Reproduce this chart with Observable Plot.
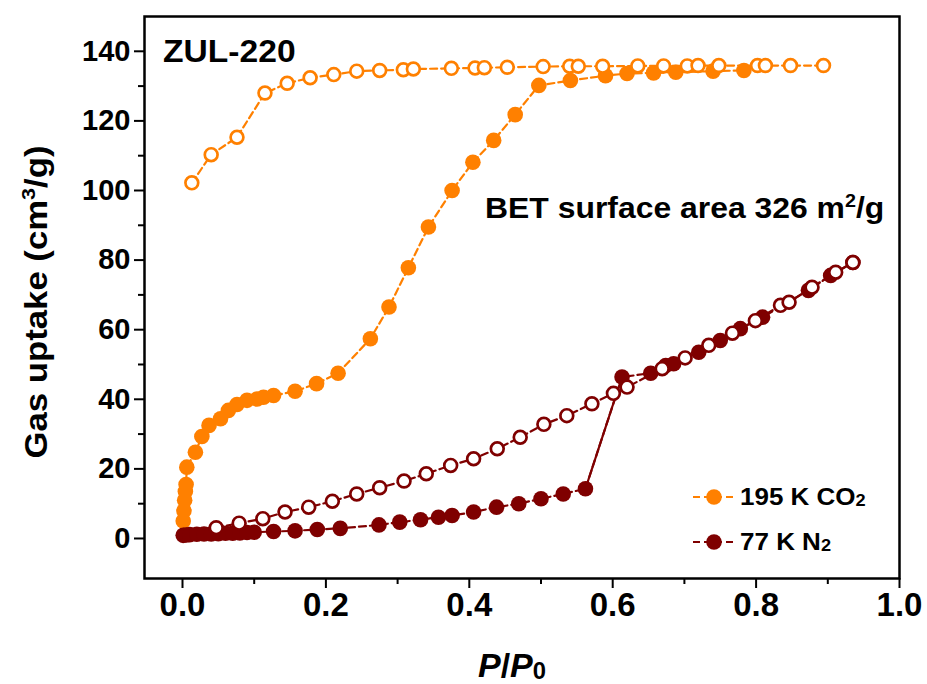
<!DOCTYPE html>
<html>
<head>
<meta charset="utf-8">
<script src="https://cdn.jsdelivr.net/npm/d3@7"></script>
<script src="https://cdn.jsdelivr.net/npm/@observablehq/plot@0.6"></script>
<style>
  html, body { margin: 0; padding: 0; background: #fff; }
  #wrap { position: relative; width: 927px; height: 684px; font-family: "Liberation Sans", Arial, sans-serif; font-weight: bold; color: #000; }
  .ann { position: absolute; white-space: nowrap; line-height: 1; transform-origin: 0 0; }
  sub { font-size: 0.7em; vertical-align: baseline; position: relative; top: 0.08em; }
  sup { font-size: 0.62em; vertical-align: baseline; position: relative; top: -0.62em; }
</style>
</head>
<body>
<div id="wrap"></div>
<script>
// ---- data ----
const co2AdsP = [0.001,0.002,0.003,0.004,0.005,0.006,0.018,0.027,0.037,0.053,0.064,0.076,0.090,0.104,0.113,0.127,0.157,0.187,0.217,0.262,0.288,0.315,0.343,0.376,0.405,0.434,0.464,0.497,0.541,0.590,0.620,0.657,0.688,0.740,0.783];
const co2AdsV = [5,8,11,13.5,15.5,20.5,24.8,29.3,32.5,34.4,36.8,38.5,39.7,40.1,40.6,41.1,42.3,44.5,47.5,57.4,66.5,77.8,89.5,100,108.1,114.4,121.8,130.2,131.6,133,133.6,133.8,134,134.3,134.5];
const co2DesP = [0.013,0.040,0.076,0.115,0.146,0.178,0.211,0.243,0.275,0.308,0.322,0.375,0.408,0.421,0.453,0.503,0.540,0.552,0.586,0.635,0.671,0.704,0.719,0.748,0.802,0.813,0.848,0.894];
const co2DesV = [102.2,110.3,115.3,128.0,130.8,132.4,133.3,134.3,134.5,134.7,134.9,135.1,135.2,135.3,135.4,135.6,135.7,135.7,135.7,135.8,135.8,135.8,135.9,135.9,135.9,135.9,135.9,135.9];
const n2AdsP = [0.001,0.005,0.01,0.02,0.03,0.04,0.05,0.06,0.07,0.08,0.09,0.10,0.127,0.157,0.188,0.220,0.274,0.303,0.332,0.357,0.376,0.406,0.438,0.469,0.500,0.531,0.562,0.613,0.653,0.674,0.685,0.720,0.750,0.778,0.809,0.873,0.904,0.935];
const n2AdsV = [0.9,1.0,1.1,1.2,1.3,1.3,1.4,1.5,1.5,1.6,1.7,1.8,2.0,2.2,2.6,2.9,3.9,4.7,5.4,6.1,6.6,7.6,9.0,10.0,11.4,12.8,14.3,46.4,47.5,49.7,50.2,53.5,56.9,60.3,63.6,71.3,75.6,79.3];
const n2DesP = [0.047,0.079,0.112,0.143,0.176,0.209,0.243,0.275,0.309,0.340,0.374,0.406,0.439,0.471,0.504,0.536,0.571,0.601,0.620,0.669,0.701,0.734,0.767,0.799,0.834,0.846,0.878,0.911,0.935];
const n2DesV = [3.1,4.4,5.7,7.6,9.0,10.7,12.8,14.6,16.5,18.6,21.0,22.9,25.8,29.1,32.8,35.3,38.7,41.7,43.5,48.8,51.9,55.5,59.0,62.6,67.0,67.9,72.2,76.5,79.3];
const n2JumpIndex = 26; // last point before the step in the N2 adsorption branch

const seriesNames = ["195 K CO", "77 K N"];
const seriesColors = ["#FF8000", "#7F0000"];
const xTicks = [0, 0.2, 0.4, 0.6, 0.8, 1.0];
const xMinorTicks = [0.1, 0.3, 0.5, 0.7, 0.9];
const yTicks = [0, 20, 40, 60, 80, 100, 120, 140];
const yMinorTicks = [10, 30, 50, 70, 90, 110, 130];
const sampleName = "ZUL-220";
const betValue = 326;

// ---- build tables ----
const zip = (P, V) => P.map((p, i) => ({p, v: V[i]}));
const co2Ads = zip(co2AdsP, co2AdsV);
const co2Des = zip(co2DesP, co2DesV);
const n2Ads = zip(n2AdsP, n2AdsV);
const n2Des = zip(n2DesP, n2DesV);
const jump = [{p1: n2AdsP[n2JumpIndex], v1: n2AdsV[n2JumpIndex], p2: n2AdsP[n2JumpIndex + 1], v2: n2AdsV[n2JumpIndex + 1]}];
const [orange, wine] = seriesColors;

const dash = "7,4";
const narrow = "'Liberation Sans Narrow', 'Arial Narrow', 'Liberation Sans', sans-serif";
const chart = Plot.plot({
  width: 927,
  height: 684,
  marginLeft: 144,
  marginRight: 28,
  marginTop: 16,
  marginBottom: 106,
  style: {fontFamily: "'Liberation Sans', Arial, sans-serif", fontSize: "28px", fontWeight: "bold", color: "#000", background: "#fff"},
  x: {domain: [-0.053, 1.0]},
  y: {domain: [-11.5, 150]},
  marks: [
    Plot.axisX({ticks: xTicks, tickSize: 10, tickPadding: 4, tickFormat: d3.format(".1f"), strokeWidth: 2, label: null, fontSize: 33, fontWeight: "bold", fontFamily: narrow}),
    Plot.axisX({ticks: xMinorTicks, tickSize: 6, strokeWidth: 2, tickFormat: () => "", label: null}),
    Plot.axisY({ticks: yTicks, tickSize: 10, tickPadding: 4, tickFormat: d3.format("d"), strokeWidth: 2, label: null, fontSize: 29, fontWeight: "bold"}),
    Plot.axisY({ticks: yMinorTicks, tickSize: 6, strokeWidth: 2, tickFormat: () => "", label: null}),
    // CO2
    Plot.line(co2Ads, {x: "p", y: "v", stroke: orange, strokeWidth: 2.2, strokeDasharray: dash}),
    Plot.line(co2Des, {x: "p", y: "v", stroke: orange, strokeWidth: 2.2, strokeDasharray: dash}),
    Plot.dot(co2Ads, {x: "p", y: "v", r: 7.8, fill: orange, stroke: "none"}),
    Plot.dot(co2Des, {x: "p", y: "v", r: 6.4, fill: "#fff", stroke: orange, strokeWidth: 2.7}),
    // N2
    Plot.line(n2Ads, {x: "p", y: "v", stroke: wine, strokeWidth: 2.2, strokeDasharray: dash}),
    Plot.link(jump, {x1: "p1", y1: "v1", x2: "p2", y2: "v2", stroke: wine, strokeWidth: 2.2}),
    Plot.line(n2Des, {x: "p", y: "v", stroke: wine, strokeWidth: 2.2, strokeDasharray: dash}),
    Plot.dot(n2Ads, {x: "p", y: "v", r: 7.8, fill: wine, stroke: "none"}),
    Plot.dot(n2Des, {x: "p", y: "v", r: 6.4, fill: "#fff", stroke: wine, strokeWidth: 2.7}),
    Plot.frame({stroke: "#000", strokeWidth: 2.5})
  ]
});

const wrap = document.getElementById("wrap");
wrap.appendChild(chart);

function ann(html, css) {
  const d = document.createElement("div");
  d.className = "ann";
  d.innerHTML = html;
  Object.assign(d.style, css);
  wrap.appendChild(d);
  return d;
}

// in-plot annotations
ann(sampleName, {left: "163px", top: "35px", fontSize: "32px", transform: "scaleX(1.05)"});
ann(`BET surface area ${betValue} m<sup>2</sup>/g`, {left: "485px", top: "194px", fontSize: "29px", transform: "scaleX(1.1)"});

// legend
const legendTops = [486, 531];
seriesNames.forEach((name, i) => {
  const sym = `<svg width="46" height="20">
    <line x1="1" y1="10" x2="45" y2="10" stroke="${seriesColors[i]}" stroke-width="2.2" stroke-dasharray="7,4"/>
    <circle cx="22" cy="10" r="7.8" fill="${seriesColors[i]}"/></svg>`;
  ann(sym, {left: "692px", top: (legendTops[i] + 1) + "px"});
  ann(`${name}<sub>2</sub>`, {left: "740px", top: legendTops[i] + "px", fontSize: "23px", transform: "scaleX(1.13)"});
});

// axis titles
ann(`Gas uptake (cm<sup>3</sup>/g)`, {left: "36px", top: "302px", fontSize: "31px", transformOrigin: "50% 50%", transform: "translate(-50%,-50%) rotate(-90deg) scaleX(1.12)"});
ann(`<i>P</i>/<i>P</i><sub style="font-style:normal">0</sub>`, {left: "512px", top: "665px", fontSize: "34px", fontFamily: narrow, transformOrigin: "50% 50%", transform: "translate(-50%,-50%)"});
</script>
</body>
</html>
